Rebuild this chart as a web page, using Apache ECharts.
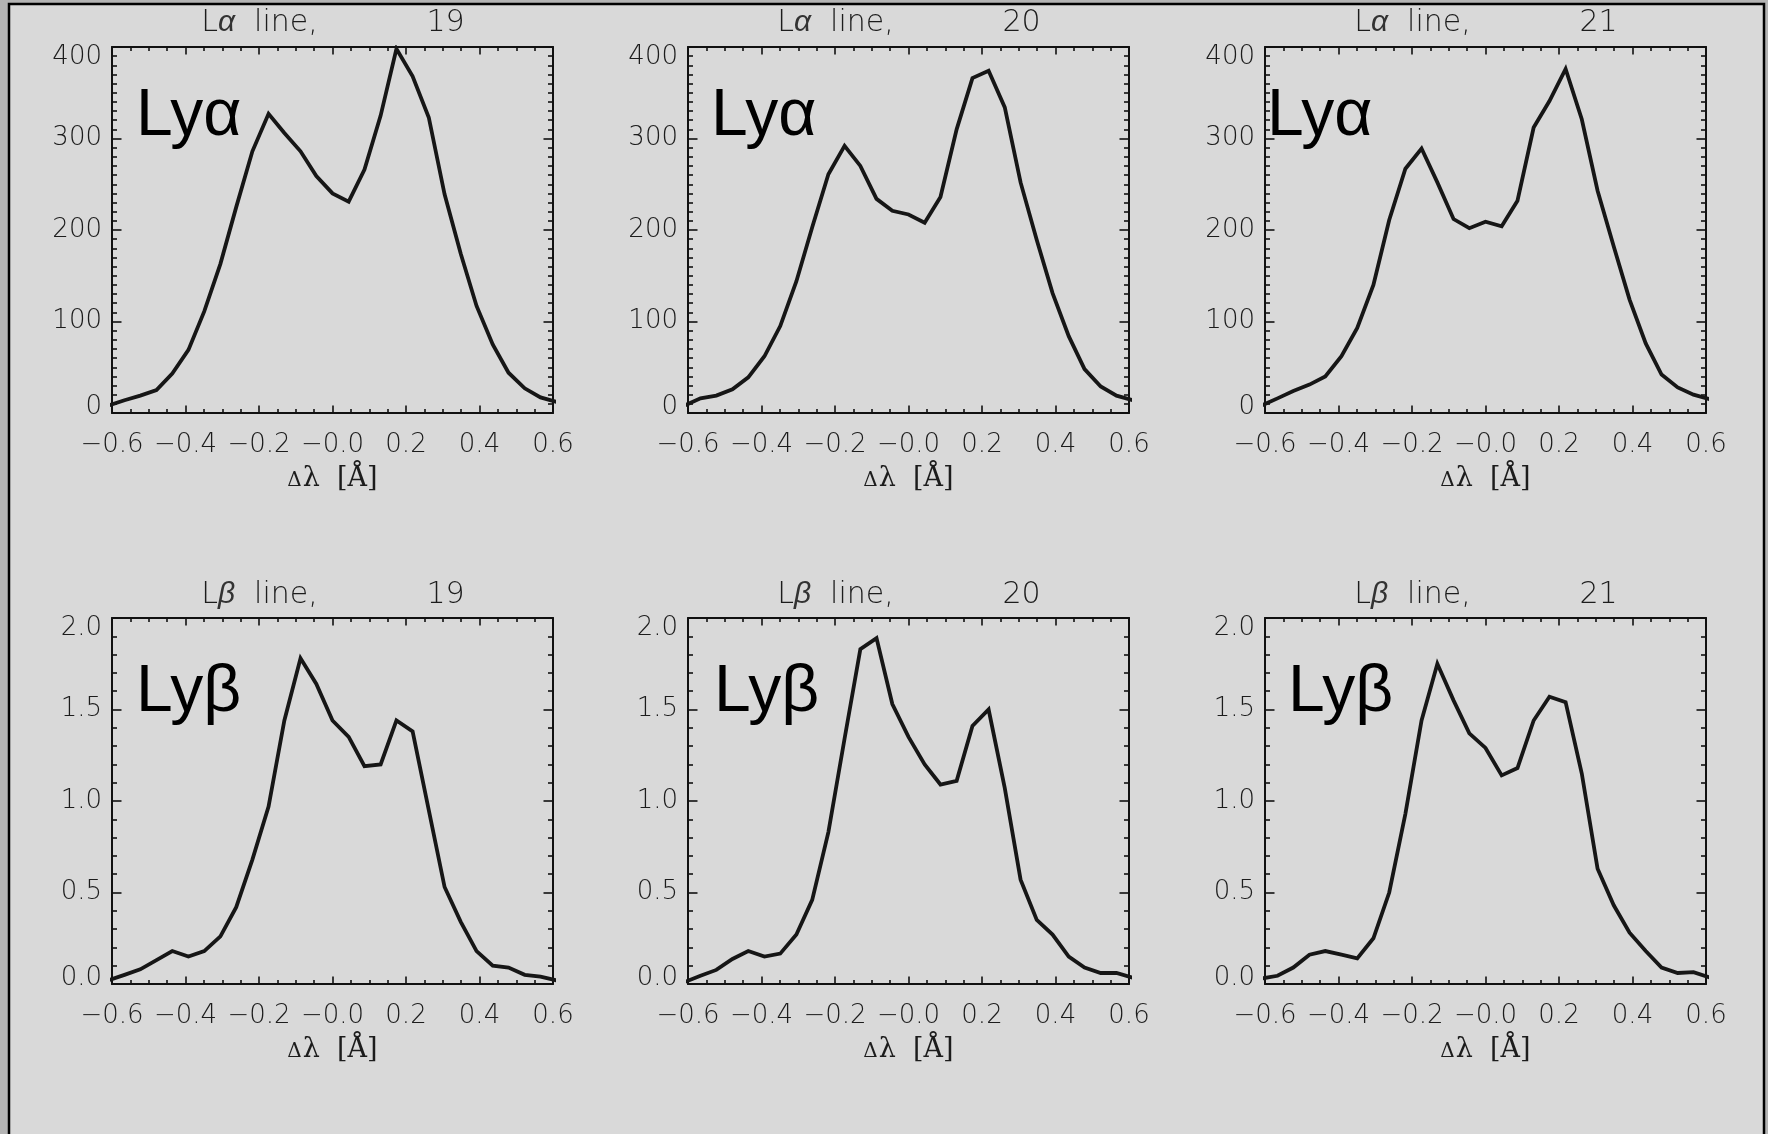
<!DOCTYPE html>
<html>
<head>
<meta charset="utf-8">
<script src="https://cdn.jsdelivr.net/npm/echarts@6/dist/echarts.min.js"></script>
<style>
html,body{margin:0;padding:0;background:#b4b4b4;}
#c{width:1768px;height:1134px;}
</style>
</head>
<body>
<div id="c"></div>
<script>
// ---------- data ----------
const dLambda = [-0.610,-0.566,-0.523,-0.479,-0.436,-0.392,-0.349,-0.305,-0.262,-0.218,-0.174,-0.131,-0.087,-0.044,0.000,0.044,0.087,0.131,0.174,0.218,0.262,0.305,0.349,0.392,0.436,0.479,0.523,0.566,0.610];

const lyaLine19 = [8,14,19,25,43,69,111,163,225,286,327,306,286,259,240,231,266,325,398,368,323,239,174,117,75,44,27,17,12];
const lyaLine20 = [8,16,19,26,39,62,95,144,203,261,292,270,234,221,217,208,236,310,366,374,334,252,189,131,84,48,29,19,14];
const lyaLine21 = [8,16,24,31,40,62,93,140,211,267,289,252,212,202,209,204,232,312,341,376,321,243,182,124,76,42,28,20,15];

const lybLine19 = [0.02,0.05,0.08,0.13,0.18,0.15,0.18,0.26,0.42,0.68,0.97,1.44,1.78,1.64,1.44,1.35,1.19,1.20,1.44,1.38,0.95,0.53,0.34,0.18,0.10,0.09,0.05,0.04,0.02];
const lybLine20 = [0.01,0.045,0.077,0.137,0.18,0.15,0.166,0.27,0.46,0.83,1.34,1.83,1.89,1.53,1.35,1.20,1.09,1.11,1.41,1.50,1.07,0.57,0.35,0.27,0.15,0.09,0.06,0.06,0.035];
const lybLine21 = [0.03,0.045,0.09,0.16,0.18,0.16,0.14,0.25,0.50,0.93,1.44,1.75,1.55,1.37,1.29,1.14,1.18,1.44,1.57,1.54,1.15,0.63,0.43,0.28,0.18,0.09,0.06,0.065,0.035];

const xTickLabels = ['\u22120.6','\u22120.4','\u22120.2','\u22120.0','0.2','0.4','0.6'];
const yTickLabelsLya = ['0','100','200','300','400'];
const yTickLabelsLyb = ['0.0','0.5','1.0','1.5','2.0'];
const lineGreek = ['\u03b1','\u03b2'];
const frameNumbers = ['19','20','21'];
const bigLabels = ['Ly\u03b1','Ly\u03b2'];
const xAxisName = ['\u0394','\u03bb','  [\u00c5]'];

// ---------- layout ----------
const colLeft = [112, 688, 1265];
const rowTop = [47, 618];
const plotW = 441, plotH = 366;
const bigLabelX = [[136, 711, 1267], [136, 714, 1288]];
const bigLabelY = [117, 693];
const titleY = [23, 595];
const rowSeries = [[lyaLine19, lyaLine20, lyaLine21], [lybLine19, lybLine20, lybLine21]];
const rowY = [
  {max: 400, interval: 100, minor: 10, labels: yTickLabelsLya},
  {max: 2, interval: 0.5, minor: 5, labels: yTickLabelsLyb}
];

const INK = '#111';
const TXT = '#1c1c1c';
const tickFont = 'DejaVu Sans';
const tickWeight = 200;

const grids = [], xAxes = [], yAxes = [], series = [], graphics = [];

graphics.push({
  type: 'rect', z: -100, silent: true,
  shape: {x: 9, y: 4, width: 1755, height: 1160},
  style: {fill: '#d9d9d9', stroke: '#000', lineWidth: 2.5}
});

for (let r = 0; r < 2; r++) {
  for (let c = 0; c < 3; c++) {
    const g = grids.length;
    grids.push({left: colLeft[c], top: rowTop[r], width: plotW, height: plotH, outerBoundsMode: 'none', containLabel: false});
    const ycfg = rowY[r];
    ['bottom', 'top'].forEach(pos => {
      xAxes.push({
        type: 'value', gridIndex: g, position: pos,
        min: -0.6, max: 0.6, interval: 0.2,
        axisLine: {show: true, onZero: false, lineStyle: {color: INK, width: 2}},
        axisTick: {show: true, inside: true, length: 7.5, lineStyle: {color: INK, width: 1.6}},
        minorTick: {show: true, splitNumber: 4, length: 4, lineStyle: {color: INK, width: 1.6}},
        splitLine: {show: false}, minorSplitLine: {show: false},
        axisLabel: {
          show: pos === 'bottom', margin: 19, color: TXT,
          fontFamily: tickFont, fontWeight: tickWeight, fontSize: 26,
          formatter: v => xTickLabels[Math.round((v + 0.6) / 0.2)]
        }
      });
    });
    ['left', 'right'].forEach(pos => {
      const n = ycfg.labels.length;
      const richBase = {fontFamily: tickFont, fontWeight: tickWeight, fontSize: 26, color: TXT};
      yAxes.push({
        type: 'value', gridIndex: g, position: pos,
        min: 0, max: ycfg.max, interval: ycfg.interval,
        axisLine: {show: true, onZero: false, lineStyle: {color: INK, width: 2}},
        axisTick: {show: true, inside: true, length: 9.5, lineStyle: {color: INK, width: 1.6}},
        minorTick: {show: true, splitNumber: ycfg.minor, length: 5, lineStyle: {color: INK, width: 1.6}},
        splitLine: {show: false}, minorSplitLine: {show: false},
        axisLabel: {
          show: pos === 'left', margin: 10, color: TXT,
          fontFamily: tickFont, fontWeight: tickWeight, fontSize: 26, lineHeight: 19,
          verticalAlignMinLabel: 'bottom', verticalAlignMaxLabel: 'top',
          formatter: v => {
            const i = Math.round(v / ycfg.interval);
            const s = ycfg.labels[i];
            if (i === 0) return '{lo|' + s + '}';
            if (i === n - 1) return '{hi|' + s + '}';
            return s;
          },
          rich: {
            lo: Object.assign({lineHeight: 12}, richBase),
            hi: Object.assign({lineHeight: 21}, richBase)
          }
        }
      });
    });
    const vals = rowSeries[r][c];
    series.push({
      type: 'line', xAxisIndex: 2 * g, yAxisIndex: 2 * g,
      data: dLambda.map((x, i) => [x, vals[i]]),
      showSymbol: false, symbol: 'none', clip: true,
      lineStyle: {color: '#161616', width: 3.8, join: 'miter'},
      animation: false, silent: true
    });

    const left = colLeft[c], top = rowTop[r];
    // title: "Lα  line,        19"
    graphics.push({
      type: 'text', x: left + 147.5, y: titleY[r], silent: true,
      style: {
        text: '{n|L}{i|' + lineGreek[r] + '}{n|  line,}',
        align: 'center', verticalAlign: 'middle',
        rich: {
          n: {fontFamily: tickFont, fontWeight: tickWeight, fontSize: 30, fill: TXT, color: TXT},
          i: {fontFamily: 'Liberation Sans', fontWeight: 'normal', fontSize: 30, fontStyle: 'italic', fill: '#333', color: '#333'}
        }
      }
    });
    graphics.push({
      type: 'text', x: left + 333.5, y: titleY[r], silent: true,
      style: {text: frameNumbers[c], fontFamily: tickFont, fontWeight: tickWeight, fontSize: 30, fill: TXT, align: 'center', verticalAlign: 'middle'}
    });
    // big Lyα / Lyβ label
    graphics.push({
      type: 'text', x: bigLabelX[r][c], y: bigLabelY[r], silent: true,
      style: {text: bigLabels[r], fontFamily: 'Liberation Sans', fontSize: 66, fill: '#000', align: 'left', verticalAlign: 'middle'}
    });
    // axis name Δλ [Å]
    graphics.push({
      type: 'text', x: left + plotW / 2, y: top + plotH + 66, silent: true,
      style: {
        text: '{d|' + xAxisName[0] + '}{l|' + xAxisName[1] + '}{s|' + xAxisName[2] + '}',
        align: 'center', verticalAlign: 'middle',
        rich: {
          d: {fontFamily: 'DejaVu Serif', fontSize: 20, fill: TXT, color: TXT, verticalAlign: 'bottom', padding: [0, 1, 2, 0]},
          l: {fontFamily: 'DejaVu Serif', fontSize: 27, fill: TXT, color: TXT},
          s: {fontFamily: 'DejaVu Serif', fontSize: 27, fill: TXT, color: TXT}
        }
      }
    });
  }
}

const chart = echarts.init(document.getElementById('c'), null, {renderer: 'canvas', width: 1768, height: 1134});
chart.setOption({
  animation: false,
  backgroundColor: 'transparent',
  grid: grids,
  xAxis: xAxes,
  yAxis: yAxes,
  series: series,
  graphic: {elements: graphics}
});
</script>
</body>
</html>
